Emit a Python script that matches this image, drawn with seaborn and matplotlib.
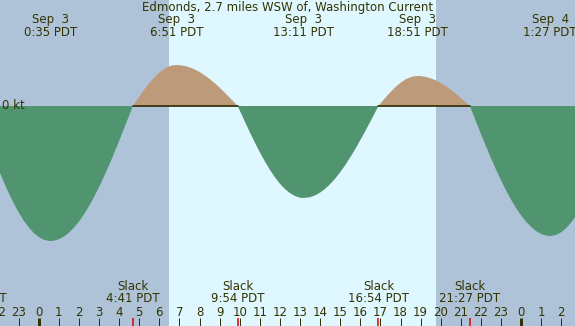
import numpy as np
import pandas as pd
import matplotlib
matplotlib.use("Agg")
import matplotlib.pyplot as plt
import seaborn as sns

# hours since midnight Sep 3 (PDT) and current speed in knots (+ flood, - ebb)
horas = [-1.95, -1.75, -1.5, -1.25, -1.0, -0.75, -0.5, -0.25, 0.0, 0.25, 0.5,
         0.583, 0.75, 1.0, 1.25, 1.5, 1.75, 2.0, 2.25, 2.5, 2.75, 3.0, 3.25,
         3.5, 3.75, 4.0, 4.25, 4.5, 4.683, 4.75, 5.0, 5.25, 5.5, 5.75, 6.0,
         6.25, 6.5, 6.65, 6.85, 7.0, 7.25, 7.5, 7.75, 8.0, 8.25, 8.5, 8.75,
         9.0, 9.25, 9.5, 9.75, 9.9, 10.0, 10.25, 10.5, 10.75, 11.0, 11.25,
         11.5, 11.75, 12.0, 12.25, 12.5, 12.75, 13.0, 13.183, 13.5, 13.75,
         14.0, 14.25, 14.5, 14.75, 15.0, 15.25, 15.5, 15.75, 16.0, 16.25,
         16.5, 16.75, 16.9, 17.0, 17.25, 17.5, 17.75, 18.0, 18.25, 18.5, 18.7,
         18.85, 19.0, 19.25, 19.5, 19.75, 20.0, 20.25, 20.5, 20.75, 21.0,
         21.25, 21.45, 21.5, 21.75, 22.0, 22.25, 22.5, 22.75, 23.0, 23.25,
         23.5, 23.75, 24.0, 24.25, 24.5, 24.75, 25.0, 25.2, 25.45, 25.75,
         26.0, 26.25, 26.5, 26.7]
nudos = [-0.656, -0.753, -0.866, -0.970, -1.063, -1.145, -1.213, -1.268,
         -1.310, -1.337, -1.349, -1.350, -1.347, -1.333, -1.306, -1.268,
         -1.217, -1.156, -1.084, -1.002, -0.911, -0.811, -0.704, -0.592,
         -0.473, -0.349, -0.223, -0.095, 0.0, 0.020, 0.093, 0.164, 0.229,
         0.286, 0.335, 0.372, 0.397, 0.406, 0.410, 0.409, 0.401, 0.387, 0.367,
         0.340, 0.308, 0.271, 0.229, 0.184, 0.135, 0.084, 0.032, 0.0, -0.044,
         -0.153, -0.261, -0.364, -0.462, -0.554, -0.637, -0.712, -0.777,
         -0.830, -0.871, -0.900, -0.917, -0.920, -0.912, -0.894, -0.866,
         -0.828, -0.781, -0.726, -0.662, -0.591, -0.513, -0.430, -0.341,
         -0.250, -0.155, -0.058, 0.0, 0.024, 0.083, 0.139, 0.190, 0.232,
         0.266, 0.288, 0.298, 0.300, 0.299, 0.291, 0.277, 0.257, 0.230, 0.199,
         0.163, 0.123, 0.081, 0.036, 0.0, -0.025, -0.153, -0.279, -0.402,
         -0.521, -0.635, -0.743, -0.844, -0.937, -1.021, -1.095, -1.158,
         -1.210, -1.251, -1.280, -1.294, -1.300, -1.289, -1.262, -1.219,
         -1.162, -1.106]

# maximum current events (top labels)
max_horas = [0.583, 6.85, 13.183, 18.85, 25.45]
max_fechas = ["Sep  3", "Sep  3", "Sep  3", "Sep  3", "Sep  4"]
max_textos = ["0:35 PDT", "6:51 PDT", "13:11 PDT", "18:51 PDT", "1:27 PDT"]

# slack events (bottom labels)
slack_horas = [-3.12, 4.683, 9.9, 16.9, 21.45]
slack_textos = ["20:53 PDT", "4:41 PDT", "9:54 PDT", "16:54 PDT", "21:27 PDT"]

# daylight
amanecer, atardecer = 6.48, 19.77

hora_ticks = list(range(-2, 27))
hora_labels = [str(h % 24) for h in hora_ticks]

titulo = "Edmonds, 2.7 miles WSW of, Washington Current"

C_NOCHE = "#afc3d8"
C_DIA = "#dff7ff"
C_FLOOD = "#bd9b7a"
C_EBB = "#509470"
C_TEXTO = "#333300"

df = pd.DataFrame({"hora": horas, "nudos": nudos})
# baseline only under flood segments
df["tramo"] = (df["nudos"] < 0).cumsum()
df_flood = df[df["nudos"] >= 0].copy()
df_flood["base"] = 0.0
df_flood = df_flood[df_flood.groupby("tramo")["hora"].transform("size") > 1]

sns.set_theme(style="white")
plt.rcParams["font.family"] = ["DejaVu Sans"]

fig = plt.figure(figsize=(5.75, 3.26), dpi=100)
ax = fig.add_axes([0, 0, 1, 1])
ax.set_xlim(-1.925, 26.68)
ax.set_ylim(-2.20, 1.06)
ax.set_facecolor(C_NOCHE)
ax.axvspan(amanecer, atardecer, color=C_DIA, lw=0, zorder=0)

ax.fill_between(df["hora"], 0, df["nudos"], where=df["nudos"] >= 0,
                color=C_FLOOD, lw=0, interpolate=True, zorder=2)
ax.fill_between(df["hora"], 0, df["nudos"], where=df["nudos"] <= 0,
                color=C_EBB, lw=0, interpolate=True, zorder=2)
sns.lineplot(data=df_flood, x="hora", y="base", units="tramo",
             estimator=None, color="#2e2a00", lw=1.2, ax=ax, zorder=3)

trans = ax.get_xaxis_transform()
fs = 8.5


def ypx(p):
    return 1 - p / 326.0


ax.text(0.5, ypx(7), titulo, transform=ax.transAxes, ha="center",
        va="center", fontsize=fs, color=C_TEXTO)
for h, f, t in zip(max_horas, max_fechas, max_textos):
    ax.text(h, ypx(20), f, transform=trans, ha="center", va="center",
            fontsize=fs, color=C_TEXTO)
    ax.text(h, ypx(32), t, transform=trans, ha="center", va="center",
            fontsize=fs, color=C_TEXTO)
for h, t in zip(slack_horas, slack_textos):
    ax.text(h, ypx(287), "Slack", transform=trans, ha="center",
            va="center", fontsize=fs, color=C_TEXTO)
    ax.text(h, ypx(299), t, transform=trans, ha="center", va="center",
            fontsize=fs, color=C_TEXTO)

ax.text(0.004, 0, "0 kt", transform=ax.get_yaxis_transform(), ha="left",
        va="center", fontsize=fs, color=C_TEXTO, zorder=4)

for h, lab in zip(hora_ticks, hora_labels):
    ax.text(h, ypx(312), lab, transform=trans, ha="center", va="center",
            fontsize=fs, color=C_TEXTO)
    ancho = 3 if h % 24 == 0 else 1
    ax.plot([h, h], [ypx(318), 0], transform=trans, color=C_TEXTO,
            lw=ancho * 0.72, solid_capstyle="butt", clip_on=False)
for h in slack_horas:
    ax.plot([h, h], [ypx(318), 0], transform=trans, color="#e00000",
            lw=1.1, solid_capstyle="butt")

ax.set_xticks([])
ax.set_yticks([])
ax.set_xlabel("")
ax.set_ylabel("")
for s in ax.spines.values():
    s.set_visible(False)

fig.savefig("out.png", dpi=100)
plt.close(fig)
